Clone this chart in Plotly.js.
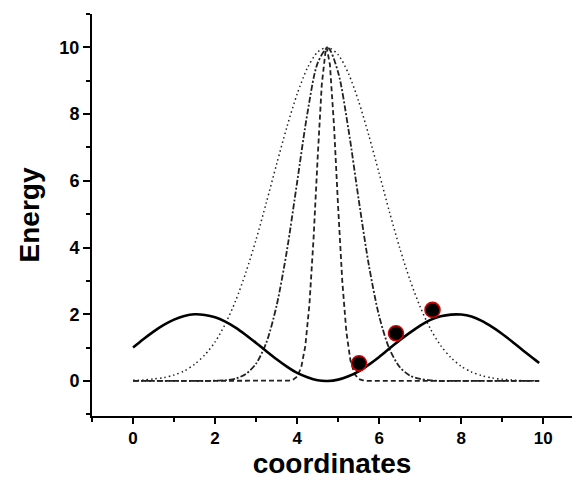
<!DOCTYPE html>
<html>
<head>
<meta charset="utf-8">
<script src="https://cdn.plot.ly/plotly-3.0.1.min.js"></script>
<style>html,body{margin:0;padding:0;background:#fff;}#chart{width:575px;height:479px;}</style>
</head>
<body>
<div id="chart"></div>
<script>
// Shared x grid for the solid curve, the wide dotted and dash-dot curves
const xGrid = [0,0.25,0.5,0.75,1,1.25,1.5,1.75,2,2.25,2.5,2.75,3,3.25,3.5,3.75,4,4.25,4.5,4.75,5,5.25,5.5,5.75,6,6.25,6.5,6.75,7,7.25,7.5,7.75,8,8.25,8.5,8.75,9,9.25,9.5,9.75,9.9];
const solidEnergy = [1.00,1.25,1.48,1.68,1.84,1.95,2.00,1.98,1.91,1.78,1.60,1.38,1.14,0.89,0.65,0.43,0.24,0.11,0.02,0.00,0.04,0.14,0.29,0.49,0.72,0.97,1.22,1.45,1.66,1.83,1.94,1.99,1.99,1.93,1.80,1.62,1.41,1.17,0.92,0.68,0.54];
const dottedEnergy = [0.02,0.03,0.06,0.10,0.18,0.30,0.50,0.78,1.17,1.71,2.40,3.25,4.24,5.35,6.50,7.61,8.60,9.38,9.86,10.00,9.78,9.22,8.38,7.35,6.22,5.07,3.99,3.03,2.22,1.56,1.06,0.70,0.44,0.27,0.16,0.09,0.05,0.03,0.01,0.01,0.00];
const dashDotEnergy = [0,0,0,0,0,0,0,0,0.01,0.02,0.07,0.21,0.52,1.15,2.26,3.90,5.96,8.02,9.53,9.99,9.25,7.55,5.44,3.46,1.94,0.96,0.42,0.16,0.06,0.02,0,0,0,0,0,0,0,0,0,0,0];
// Narrow dashed curve, finer grid near the peak
const xDash = [0,1,2,3,3.5,3.8,3.9,4.0,4.1,4.2,4.3,4.4,4.5,4.6,4.7,4.72,4.8,4.9,5.0,5.1,5.2,5.3,5.4,5.5,5.6,5.7,6,7,8,9,9.9];
const dashEnergy = [0,0,0,0,0,0.01,0.04,0.13,0.41,1.05,2.30,4.26,6.68,8.87,9.97,10.00,9.48,7.63,5.20,3.00,1.47,0.61,0.21,0.06,0.02,0,0,0,0,0,0];
// Points
const ptX = [5.51,6.41,7.30];
const ptY = [0.53,1.43,2.13];
// Tick labels
const xTickVals = [0,2,4,6,8,10];
const xTickText = ['0','2','4','6','8','10'];
const yTickVals = [0,2,4,6,8,10];
const yTickText = ['0','2','4','6','8','10'];

const traces = [
  {x:xGrid, y:dottedEnergy, mode:'lines', line:{color:'#222', width:1.5, dash:'1.5px,3px', shape:'spline', smoothing:0.8}, hoverinfo:'skip'},
  {x:xGrid, y:dashDotEnergy, mode:'lines', line:{color:'#222', width:1.8, dash:'6px,2px,2px,2px', shape:'spline', smoothing:0.8}, hoverinfo:'skip'},
  {x:xDash, y:dashEnergy, mode:'lines', line:{color:'#222', width:1.8, dash:'5px,3px', shape:'linear'}, hoverinfo:'skip'},
  {x:xGrid, y:solidEnergy, mode:'lines', line:{color:'#000', width:2.6, shape:'spline', smoothing:0.8}, hoverinfo:'skip'},
  {x:ptX, y:ptY, mode:'markers', marker:{color:'#000', size:15, line:{color:'#d40000', width:1.6}}, hoverinfo:'skip'}
];

const fontFam = 'Arial, "Liberation Sans", sans-serif';
const layout = {
  width:575, height:479,
  margin:{l:92, r:3, t:14, b:63},
  paper_bgcolor:'#fff', plot_bgcolor:'#fff',
  showlegend:false,
  font:{family:fontFam, color:'#000'},
  xaxis:{
    range:[-1,10.7], showgrid:false, zeroline:false,
    showline:true, linecolor:'#000', linewidth:2,
    ticks:'outside', ticklen:6, tickwidth:2, tickcolor:'#000',
    tickmode:'array', tickvals:xTickVals, ticktext:xTickText,
    tickfont:{family:fontFam, size:17, color:'#000', weight:'bold'},
    minor:{ticks:'outside', ticklen:4, tickwidth:2, tickcolor:'#000', dtick:1, tick0:0, showgrid:false},
    title:{text:'coordinates', font:{family:fontFam, size:28, color:'#000', weight:'bold'}, standoff:13}
  },
  yaxis:{
    range:[-1.05,11], showgrid:false, zeroline:false,
    showline:true, linecolor:'#000', linewidth:2,
    ticks:'outside', ticklen:7, tickwidth:2, tickcolor:'#000',
    tickmode:'array', tickvals:yTickVals, ticktext:yTickText,
    tickfont:{family:fontFam, size:18, color:'#000', weight:'bold'},
    minor:{ticks:'outside', ticklen:4, tickwidth:2, tickcolor:'#000', dtick:1, tick0:0, showgrid:false},
    title:{text:'Energy', font:{family:fontFam, size:28, color:'#000', weight:'bold'}, standoff:12}
  }
};
Plotly.newPlot('chart', traces, layout, {staticPlot:true, displayModeBar:false});
</script>
</body>
</html>
